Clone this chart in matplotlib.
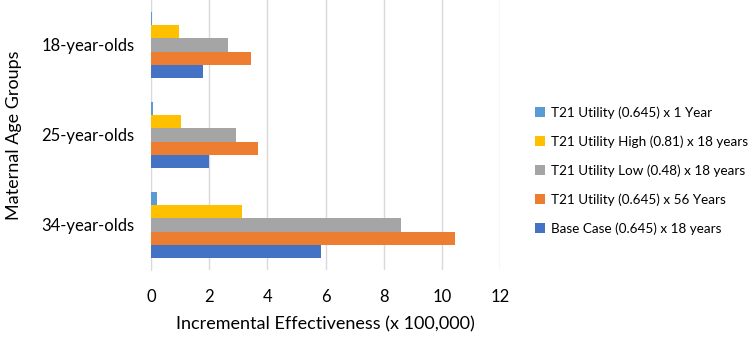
import matplotlib
matplotlib.use('Agg')
import matplotlib.pyplot as plt
import numpy as np

plt.rcParams['font.family'] = ['Lato', 'DejaVu Sans']

groups = ['34-year-olds', '25-year-olds', '18-year-olds']
series_names = [
    'Base Case (0.645) x 18 years',
    'T21 Utility (0.645) x 56 Years',
    'T21 Utility Low (0.48) x 18 years',
    'T21 Utility High (0.81) x 18 years',
    'T21 Utility (0.645) x 1 Year',
]
base_case = [5.86, 1.98, 1.80]
utility_56 = [10.45, 3.69, 3.43]
utility_low = [8.60, 2.92, 2.65]
utility_high = [3.12, 1.04, 0.95]
utility_1yr = [0.20, 0.07, 0.05]
colors = ['#4472C4', '#ED7D31', '#A5A5A5', '#FFC000', '#5B9BD5']

values = [base_case, utility_56, utility_low, utility_high, utility_1yr]

fig = plt.figure(figsize=(7.5, 3.37), dpi=100)
ax = fig.add_axes([151 / 750, 1 - 270 / 337, (500 - 151) / 750, 270 / 337])

y = np.arange(len(groups))
h = 0.147
for i, (vals, name, c) in enumerate(zip(values, series_names, colors)):
    ax.barh(y + (i - 2) * h, vals, height=h, color=c, label=name, zorder=3)

ax.set_xlim(0, 12)
ax.set_ylim(-0.5, 2.5)
ax.set_xticks(range(0, 13, 2))
ax.set_yticks(y)
ax.set_yticklabels(groups)
ax.tick_params(axis='both', length=0, labelsize=12, colors='#000000')
ax.tick_params(axis='x', pad=14)
ax.tick_params(axis='y', pad=12)
ax.grid(axis='x', color='#d9d9d9', linewidth=1, zorder=0)
for s in ['top', 'right', 'bottom']:
    ax.spines[s].set_visible(False)
ax.spines['left'].set_color('#d9d9d9')

ax.set_xlabel('Incremental Effectiveness (x 100,000)', fontsize=13, labelpad=8)
ax.set_ylabel('Maternal Age Groups', fontsize=13, labelpad=14)

handles, labels = ax.get_legend_handles_labels()
fig.legend(handles[::-1], labels[::-1], loc='center left',
           bbox_to_anchor=(523 / 750, 0.494), frameon=False, fontsize=9.7,
           handlelength=0.7, handleheight=0.7, handletextpad=0.45,
           labelspacing=1.22)

fig.savefig('out.png', dpi=100)
